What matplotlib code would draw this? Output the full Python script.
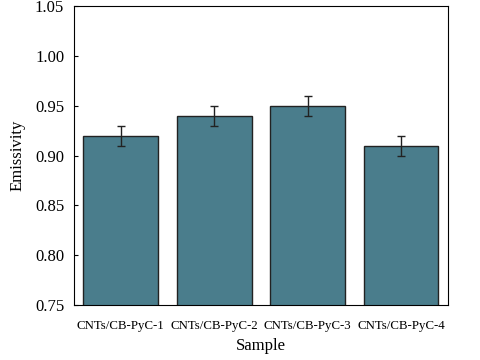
import matplotlib
matplotlib.use("Agg")
import matplotlib.pyplot as plt

samples = ["CNTs/CB-PyC-1", "CNTs/CB-PyC-2", "CNTs/CB-PyC-3", "CNTs/CB-PyC-4"]
emissivity = [0.92, 0.94, 0.95, 0.91]
errors = [0.01, 0.01, 0.01, 0.01]
yticks = [0.75, 0.80, 0.85, 0.90, 0.95, 1.00, 1.05]

plt.rcParams['font.family'] = ['Liberation Serif', 'DejaVu Serif']

fig = plt.figure(figsize=(4.8, 3.6), dpi=100)
ax = fig.add_axes([0.154, 0.153, 0.779, 0.830])

ax.bar(range(len(samples)), emissivity, width=0.8, color='#4a7d8c',
       edgecolor='#222222', linewidth=1.0,
       yerr=errors, capsize=3, error_kw={'ecolor': '#222222', 'elinewidth': 1.0, 'capthick': 1.0})

ax.set_xlim(-0.5, 3.5)
ax.set_ylim(0.75, 1.05)
ax.set_yticks(yticks)
ax.set_yticklabels([f"{v:.2f}" for v in yticks])
ax.set_xticks(range(len(samples)))
ax.set_xticklabels(samples, fontsize=9.3)
ax.tick_params(axis='y', direction='in', length=3, labelsize=12, pad=7)
ax.tick_params(axis='x', length=0, pad=11)
ax.set_xlabel('Sample', fontsize=12, labelpad=4)
ax.set_ylabel('Emissivity', fontsize=12, labelpad=7)

fig.savefig('out.png', dpi=100)
